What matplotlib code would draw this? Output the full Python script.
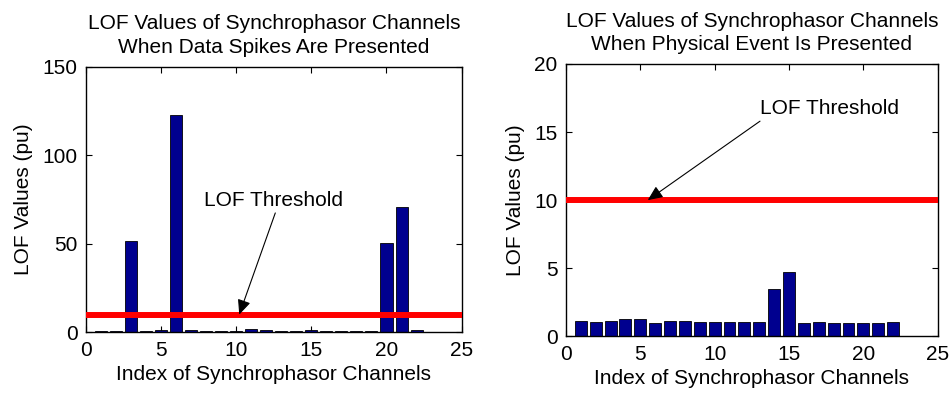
import numpy as np
import matplotlib
matplotlib.use('Agg')
import matplotlib.pyplot as plt

plt.rcParams['font.family'] = ['Liberation Sans', 'DejaVu Sans']

# LOF values for each channel
channels = np.arange(1, 23)
lof_spikes = [1.0, 1.0, 51.5, 1.0, 1.1, 122.7, 1.2, 1.0, 1.0, 1.0, 1.9, 1.5,
              1.0, 1.0, 1.4, 1.0, 1.0, 1.0, 1.0, 50.2, 70.6, 1.2]
lof_event = [1.09, 1.02, 1.14, 1.26, 1.24, 0.97, 1.12, 1.12, 1.02, 1.02, 1.07,
             1.05, 1.05, 3.5, 4.72, 1.0, 1.05, 0.97, 0.97, 1.0, 0.95, 1.02]
threshold = 10

titles = ['LOF Values of Synchrophasor Channels\nWhen Data Spikes Are Presented',
          'LOF Values of Synchrophasor Channels\nWhen Physical Event Is Presented']

fig = plt.figure(figsize=(9.52, 3.93), dpi=100)
ax1 = fig.add_axes([0.0903, 0.1545, 0.3946, 0.6758])
ax2 = fig.add_axes([0.5945, 0.1443, 0.3905, 0.6929])

fs = 15
for ax, vals, title, ymax, yt in [(ax1, lof_spikes, titles[0], 150, [0, 50, 100, 150]),
                                  (ax2, lof_event, titles[1], 20, [0, 5, 10, 15, 20])]:
    ax.bar(channels, vals, width=0.8, color='#00008F', edgecolor='black', linewidth=0.6, zorder=2)
    ax.axhline(threshold, color='red', linewidth=4.3, zorder=3)
    ax.set_xlim(0, 25)
    ax.set_ylim(0, ymax)
    ax.set_xticks([0, 5, 10, 15, 20, 25])
    ax.set_yticks(yt)
    ax.tick_params(direction='in', top=True, right=True, labelsize=fs, length=4)
    ax.tick_params(axis='x', pad=6)
    ax.tick_params(axis='y', pad=6)
    ax.set_title(title, fontsize=fs, pad=10, linespacing=1.3)
    ax.set_xlabel('Index of Synchrophasor Channels', fontsize=fs, labelpad=4)
    ax.set_ylabel('LOF Values (pu)', fontsize=fs, labelpad=7)
    for s in ax.spines.values():
        s.set_linewidth(1.0)

arrow = dict(arrowstyle='-|>,head_length=0.9,head_width=0.4', color='black',
             lw=0.8, shrinkA=0, shrinkB=0)
ax1.annotate('', xy=(10.2, 10), xytext=(12.6, 67.4), arrowprops=arrow, zorder=4)
ax1.text(7.85, 74.3, 'LOF Threshold', fontsize=fs, va='center', ha='left')
ax2.annotate('', xy=(5.5, 10), xytext=(13.05, 15.8), arrowprops=arrow, zorder=4)
ax2.text(13.05, 16.7, 'LOF Threshold', fontsize=fs, va='center', ha='left')

fig.savefig('out.png', dpi=100)
